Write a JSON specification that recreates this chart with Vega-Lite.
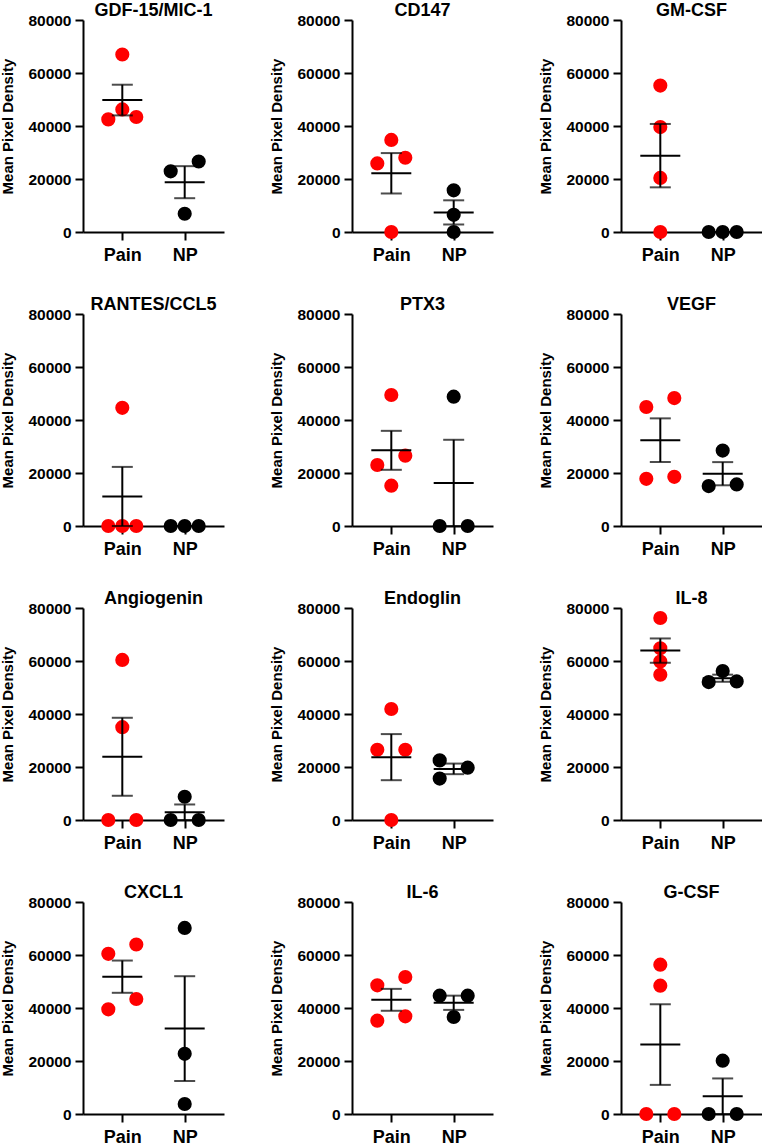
{
  "$schema": "https://vega.github.io/schema/vega-lite/v6.json",
  "padding": {"left": 0, "top": 2, "right": 0, "bottom": 0},
  "background": "white",
  "data": {"values": [
    {"analyte": "GDF-15/MIC-1", "group": "Pain", "slot": "C", "value": 67000},
    {"analyte": "GDF-15/MIC-1", "group": "Pain", "slot": "C", "value": 46250},
    {"analyte": "GDF-15/MIC-1", "group": "Pain", "slot": "L", "value": 42500},
    {"analyte": "GDF-15/MIC-1", "group": "Pain", "slot": "R", "value": 43400},
    {"analyte": "GDF-15/MIC-1", "group": "NP", "slot": "L", "value": 22900},
    {"analyte": "GDF-15/MIC-1", "group": "NP", "slot": "R", "value": 26600},
    {"analyte": "GDF-15/MIC-1", "group": "NP", "slot": "C", "value": 6900},
    {"analyte": "CD147", "group": "Pain", "slot": "C", "value": 34740},
    {"analyte": "CD147", "group": "Pain", "slot": "L", "value": 25870},
    {"analyte": "CD147", "group": "Pain", "slot": "R", "value": 28020},
    {"analyte": "CD147", "group": "Pain", "slot": "C", "value": 0},
    {"analyte": "CD147", "group": "NP", "slot": "C", "value": 15720},
    {"analyte": "CD147", "group": "NP", "slot": "C", "value": 6470},
    {"analyte": "CD147", "group": "NP", "slot": "C", "value": 0},
    {"analyte": "GM-CSF", "group": "Pain", "slot": "C", "value": 55250},
    {"analyte": "GM-CSF", "group": "Pain", "slot": "C", "value": 39600},
    {"analyte": "GM-CSF", "group": "Pain", "slot": "C", "value": 20400},
    {"analyte": "GM-CSF", "group": "Pain", "slot": "C", "value": 0},
    {"analyte": "GM-CSF", "group": "NP", "slot": "L", "value": 0},
    {"analyte": "GM-CSF", "group": "NP", "slot": "C", "value": 0},
    {"analyte": "GM-CSF", "group": "NP", "slot": "R", "value": 0},
    {"analyte": "RANTES/CCL5", "group": "Pain", "slot": "C", "value": 44600},
    {"analyte": "RANTES/CCL5", "group": "Pain", "slot": "L", "value": 0},
    {"analyte": "RANTES/CCL5", "group": "Pain", "slot": "C", "value": 0},
    {"analyte": "RANTES/CCL5", "group": "Pain", "slot": "R", "value": 0},
    {"analyte": "RANTES/CCL5", "group": "NP", "slot": "L", "value": 0},
    {"analyte": "RANTES/CCL5", "group": "NP", "slot": "C", "value": 0},
    {"analyte": "RANTES/CCL5", "group": "NP", "slot": "R", "value": 0},
    {"analyte": "PTX3", "group": "Pain", "slot": "C", "value": 49440},
    {"analyte": "PTX3", "group": "Pain", "slot": "L", "value": 23020},
    {"analyte": "PTX3", "group": "Pain", "slot": "R", "value": 26540},
    {"analyte": "PTX3", "group": "Pain", "slot": "C", "value": 15220},
    {"analyte": "PTX3", "group": "NP", "slot": "C", "value": 48800},
    {"analyte": "PTX3", "group": "NP", "slot": "L", "value": 0},
    {"analyte": "PTX3", "group": "NP", "slot": "R", "value": 0},
    {"analyte": "VEGF", "group": "Pain", "slot": "L", "value": 44900},
    {"analyte": "VEGF", "group": "Pain", "slot": "R", "value": 48280},
    {"analyte": "VEGF", "group": "Pain", "slot": "L", "value": 17810},
    {"analyte": "VEGF", "group": "Pain", "slot": "R", "value": 18560},
    {"analyte": "VEGF", "group": "NP", "slot": "C", "value": 28470},
    {"analyte": "VEGF", "group": "NP", "slot": "L", "value": 15050},
    {"analyte": "VEGF", "group": "NP", "slot": "R", "value": 15680},
    {"analyte": "Angiogenin", "group": "Pain", "slot": "C", "value": 60400},
    {"analyte": "Angiogenin", "group": "Pain", "slot": "C", "value": 35040},
    {"analyte": "Angiogenin", "group": "Pain", "slot": "L", "value": 0},
    {"analyte": "Angiogenin", "group": "Pain", "slot": "R", "value": 0},
    {"analyte": "Angiogenin", "group": "NP", "slot": "C", "value": 8790},
    {"analyte": "Angiogenin", "group": "NP", "slot": "L", "value": 0},
    {"analyte": "Angiogenin", "group": "NP", "slot": "R", "value": 0},
    {"analyte": "Endoglin", "group": "Pain", "slot": "C", "value": 41875},
    {"analyte": "Endoglin", "group": "Pain", "slot": "L", "value": 26500},
    {"analyte": "Endoglin", "group": "Pain", "slot": "R", "value": 26500},
    {"analyte": "Endoglin", "group": "Pain", "slot": "C", "value": 0},
    {"analyte": "Endoglin", "group": "NP", "slot": "L", "value": 22500},
    {"analyte": "Endoglin", "group": "NP", "slot": "L", "value": 15625},
    {"analyte": "Endoglin", "group": "NP", "slot": "R", "value": 19750},
    {"analyte": "IL-8", "group": "Pain", "slot": "C", "value": 76240},
    {"analyte": "IL-8", "group": "Pain", "slot": "C", "value": 64830},
    {"analyte": "IL-8", "group": "Pain", "slot": "C", "value": 59820},
    {"analyte": "IL-8", "group": "Pain", "slot": "C", "value": 54800},
    {"analyte": "IL-8", "group": "NP", "slot": "C", "value": 56180},
    {"analyte": "IL-8", "group": "NP", "slot": "L", "value": 52040},
    {"analyte": "IL-8", "group": "NP", "slot": "R", "value": 52290},
    {"analyte": "CXCL1", "group": "Pain", "slot": "L", "value": 60440},
    {"analyte": "CXCL1", "group": "Pain", "slot": "R", "value": 63950},
    {"analyte": "CXCL1", "group": "Pain", "slot": "L", "value": 39500},
    {"analyte": "CXCL1", "group": "Pain", "slot": "R", "value": 43390},
    {"analyte": "CXCL1", "group": "NP", "slot": "C", "value": 70220},
    {"analyte": "CXCL1", "group": "NP", "slot": "C", "value": 22700},
    {"analyte": "CXCL1", "group": "NP", "slot": "C", "value": 3760},
    {"analyte": "IL-6", "group": "Pain", "slot": "L", "value": 48560},
    {"analyte": "IL-6", "group": "Pain", "slot": "R", "value": 51700},
    {"analyte": "IL-6", "group": "Pain", "slot": "L", "value": 35220},
    {"analyte": "IL-6", "group": "Pain", "slot": "R", "value": 36860},
    {"analyte": "IL-6", "group": "NP", "slot": "L", "value": 44660},
    {"analyte": "IL-6", "group": "NP", "slot": "R", "value": 44660},
    {"analyte": "IL-6", "group": "NP", "slot": "C", "value": 36600},
    {"analyte": "G-CSF", "group": "Pain", "slot": "C", "value": 56360},
    {"analyte": "G-CSF", "group": "Pain", "slot": "C", "value": 48430},
    {"analyte": "G-CSF", "group": "Pain", "slot": "L", "value": 0},
    {"analyte": "G-CSF", "group": "Pain", "slot": "R", "value": 0},
    {"analyte": "G-CSF", "group": "NP", "slot": "C", "value": 20130},
    {"analyte": "G-CSF", "group": "NP", "slot": "L", "value": 0},
    {"analyte": "G-CSF", "group": "NP", "slot": "R", "value": 0}
  ]},
  "facet": {
    "field": "analyte",
    "type": "nominal",
    "sort": ["GDF-15/MIC-1", "CD147", "GM-CSF", "RANTES/CCL5", "PTX3", "VEGF", "Angiogenin", "Endoglin", "IL-8", "CXCL1", "IL-6", "G-CSF"],
    "header": {"title": null, "labelFontSize": 18, "labelFontWeight": "bold", "labelColor": "black", "labelPadding": -7, "labelFont": "Liberation Sans"}
  },
  "columns": 3,
  "spacing": {"column": 45, "row": 32},
  "resolve": {"axis": {"x": "independent", "y": "independent"}},
  "spec": {
    "width": 141,
    "height": 212,
    "layer": [
      {
        "mark": {"type": "point", "filled": true, "size": 200, "opacity": 1},
        "encoding": {
          "x": {"field": "group", "type": "nominal", "sort": ["Pain", "NP"], "scale": {"type": "point", "domain": ["Pain", "NP"], "padding": 0.63}, "title": null},
          "xOffset": {"field": "slot", "type": "nominal", "scale": {"type": "point", "domain": ["L", "C", "R"], "range": [-14, 14], "padding": 0}},
          "y": {"field": "value", "type": "quantitative", "title": "Mean Pixel Density", "scale": {"domain": [0, 80000], "nice": false}, "axis": {"values": [0, 20000, 40000, 60000, 80000], "format": "d"}},
          "color": {"field": "group", "type": "nominal", "scale": {"domain": ["Pain", "NP"], "range": ["#ff0000", "#000000"]}, "legend": null}
        }
      },
      {
        "mark": {"type": "errorbar", "extent": "stderr", "color": "black", "ticks": {"size": 21, "thickness": 2, "color": "black"}, "rule": {"strokeWidth": 2, "color": "black"}},
        "encoding": {
          "x": {"field": "group", "type": "nominal", "title": null},
          "y": {"field": "value", "type": "quantitative", "title": "Mean Pixel Density"}
        }
      },
      {
        "mark": {"type": "tick", "size": 40, "thickness": 2, "color": "black"},
        "encoding": {
          "x": {"field": "group", "type": "nominal", "title": null},
          "y": {"aggregate": "mean", "field": "value", "type": "quantitative", "title": "Mean Pixel Density"}
        }
      }
    ]
  },
  "config": {
    "font": "Liberation Sans",
    "view": {"stroke": null},
    "axis": {
      "domainColor": "black", "domainWidth": 2, "tickColor": "black", "tickWidth": 2, "tickSize": 8,
      "labelFont": "Liberation Sans", "labelFontWeight": "bold", "labelColor": "black",
      "titleFont": "Liberation Sans", "titleFontWeight": "bold", "titleColor": "black",
      "grid": false
    },
    "axisY": {"labelFontSize": 15.5, "titleFontSize": 15, "labelPadding": 4, "titlePadding": 12},
    "axisX": {"labelFontSize": 18, "labelAngle": 0, "labelPadding": 6}
  }
}
